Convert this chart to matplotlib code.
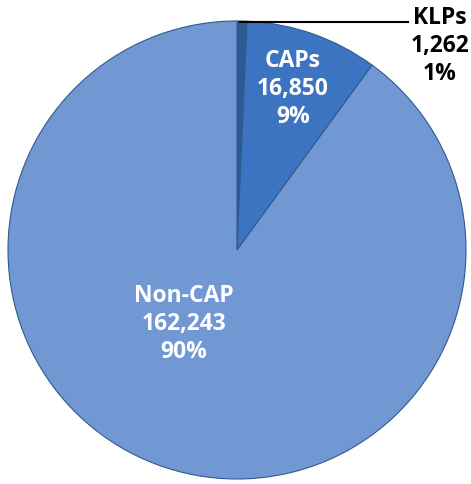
import matplotlib
matplotlib.use("Agg")
import matplotlib.pyplot as plt

categories = ["KLPs", "CAPs", "Non-CAP"]
values = [1262, 16850, 162243]
pct_labels = ["1%", "9%", "90%"]
count_labels = ["1,262", "16,850", "162,243"]

colors = ["#2b5a94", "#3c74c2", "#7298d4"]

fig = plt.figure(figsize=(4.71, 4.84), dpi=100)
ax = fig.add_axes([0, 0, 1, 1])

cx, cy, r = 237, 484 - 250, 229
wedges, _ = ax.pie(values, colors=colors, startangle=90, counterclock=False,
                   center=(cx, cy), radius=r, frame=True,
                   wedgeprops=dict(edgecolor="#2f5a90", linewidth=0.8))
ax.set_xlim(0, 471)
ax.set_ylim(0, 484)
ax.set_aspect("equal")
ax.axis("off")

font = ["Open Sans", "DejaVu Sans"]
fs = 16.5
ls = 1.2
ax.text(293, 484 - 89, "\n".join([categories[1], count_labels[1], pct_labels[1]]),
        ha="center", va="center", color="white", fontsize=fs, fontweight="bold",
        family=font, linespacing=ls)
ax.text(184, 484 - 324, "\n".join([categories[2], count_labels[2], pct_labels[2]]),
        ha="center", va="center", color="white", fontsize=fs, fontweight="bold",
        family=font, linespacing=ls)
ax.text(440, 484 - 46, "\n".join([categories[0], count_labels[0], pct_labels[0]]),
        ha="center", va="center", color="black", fontsize=fs, fontweight="bold",
        family=font, linespacing=ls)
ax.plot([240, 408], [484 - 22, 484 - 22], color="black", lw=1.5)

fig.savefig("out.png", dpi=100, facecolor="white")
